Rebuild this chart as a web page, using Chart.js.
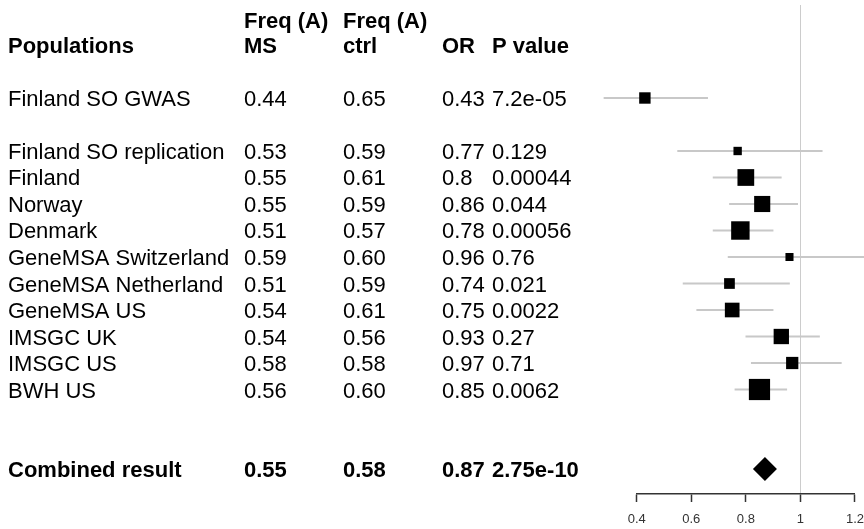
<!DOCTYPE html>
<html lang="en">
<head>
<meta charset="UTF-8">
<title>Forest plot</title>
<script src="https://cdn.jsdelivr.net/npm/chart.js@4.4.1/dist/chart.umd.min.js"></script>
<style>
  html, body { margin: 0; padding: 0; background: #fff; }
  canvas { display: block; }
</style>
</head>
<body>
<canvas id="forest" width="864" height="529"></canvas>
<script>
// study rows (top to bottom)
const populations = ['Finland SO GWAS', 'Finland SO replication', 'Finland', 'Norway', 'Denmark',
  'GeneMSA Switzerland', 'GeneMSA Netherland', 'GeneMSA US', 'IMSGC UK', 'IMSGC US', 'BWH US'];
const freqMS    = ['0.44', '0.53', '0.55', '0.55', '0.51', '0.59', '0.51', '0.54', '0.54', '0.58', '0.56'];
const freqCtrl  = ['0.65', '0.59', '0.61', '0.59', '0.57', '0.60', '0.59', '0.61', '0.56', '0.58', '0.60'];
const oddsRatio = [0.43, 0.77, 0.8, 0.86, 0.78, 0.96, 0.74, 0.75, 0.93, 0.97, 0.85];
const pValues   = ['7.2e-05', '0.129', '0.00044', '0.044', '0.00056', '0.76', '0.021', '0.0022', '0.27', '0.71', '0.0062'];
// confidence intervals
const ciLower   = [0.28, 0.55, 0.68, 0.74, 0.68, 0.735, 0.57, 0.62, 0.80, 0.82, 0.76];
const ciUpper   = [0.66, 1.08, 0.93, 0.99, 0.90, 1.26, 0.96, 0.90, 1.07, 1.15, 0.95];
// relative study weight (box area)
const studyWeight = [1.3, 0.7, 2.8, 2.6, 3.4, 0.65, 1.15, 2.15, 2.35, 1.5, 4.5];

const combinedLabel = 'Combined result';
const combinedFreqMS = '0.55';
const combinedFreqCtrl = '0.58';
const combinedOR = 0.87;
const combinedP = '2.75e-10';

const headerTop = ['', 'Freq (A)', 'Freq (A)', '', ''];
const headerBottom = ['Populations', 'MS', 'ctrl', 'OR', 'P value'];
const axisTicks = [0.4, 0.6, 0.8, 1, 1.2];

// first study stands alone, then a blank row, the rest follow; combined result 3 rows below the last
const studyRows = populations.map((_, i) => i === 0 ? 0 : i + 1);
const combinedRow = studyRows[studyRows.length - 1] + 3;

const FONT = '"Liberation Sans", Arial, sans-serif';

const tablePlugin = {
  id: 'table',
  afterDraw(chart) {
    const ctx = chart.ctx;
    const y = chart.scales.y;
    const cols = [8, 244, 343, 442, 492];
    const put = (cells, row, bold, dy) => {
      ctx.font = (bold ? 'bold ' : '') + '22px ' + FONT;
      const py = y.getPixelForValue(row) + 8 + (dy || 0);
      cells.forEach((t, c) => { if (t) ctx.fillText(t, cols[c], py); });
    };
    ctx.save();
    ctx.fillStyle = '#000';
    ctx.textBaseline = 'alphabetic';
    ctx.textAlign = 'left';
    put(headerTop, -2, true, -25);
    put(headerBottom, -2, true);
    populations.forEach((name, i) => {
      put([name, freqMS[i], freqCtrl[i], String(oddsRatio[i]), pValues[i]], studyRows[i], false);
    });
    put([combinedLabel, combinedFreqMS, combinedFreqCtrl, String(combinedOR), combinedP], combinedRow, true);
    ctx.restore();
  }
};

new Chart(document.getElementById('forest'), {
  type: 'scatter',
  data: {
    datasets: [
      {
        type: 'bar',
        indexAxis: 'y',
        data: populations.map((_, i) => ({ y: studyRows[i], x: [ciLower[i], ciUpper[i]] })),
        backgroundColor: '#c8c8c8',
        borderWidth: 0,
        barThickness: 1.5,
        clip: false,
        order: 3
      },
      {
        data: populations.map((_, i) => ({ x: oddsRatio[i], y: studyRows[i] })),
        pointStyle: 'rect',
        pointRadius: studyWeight.map(w => Math.sqrt(w) * 10 / Math.SQRT2),
        backgroundColor: '#000',
        borderWidth: 0,
        clip: false,
        order: 2
      },
      {
        data: [{ x: combinedOR, y: combinedRow }],
        pointStyle: 'rectRot',
        pointRadius: 12,
        backgroundColor: '#000',
        borderWidth: 0,
        clip: false,
        order: 1
      }
    ]
  },
  options: {
    responsive: false,
    animation: false,
    devicePixelRatio: 1,
    events: [],
    layout: { autoPadding: false, padding: { left: 636.7, right: 0, top: 5, bottom: -8.1 } },
    plugins: { legend: { display: false }, tooltip: { enabled: false } },
    scales: {
      x: {
        type: 'linear',
        min: 0.4,
        max: 1.2,
        offset: false,
        afterBuildTicks: s => { s.ticks = axisTicks.map(v => ({ value: v })); },
        grid: {
          offset: false,
          color: c => (c.tick && c.tick.value === 1) ? '#cccccc' : 'rgba(0,0,0,0)',
          lineWidth: 1,
          tickColor: '#333',
          tickLength: 8,
          tickWidth: 1.5
        },
        border: { display: true, color: '#333', width: 1.5 },
        ticks: {
          padding: 0,
          color: '#333',
          autoSkip: false,
          maxRotation: 0,
          font: { family: FONT, size: 13, lineHeight: 2.7 },
          callback: v => String(v)
        }
      },
      y: {
        type: 'linear',
        display: false,
        reverse: true,
        offset: false,
        grid: { offset: false },
        min: -3.509,
        max: 14.943
      }
    }
  },
  plugins: [tablePlugin]
});
</script>
</body>
</html>
